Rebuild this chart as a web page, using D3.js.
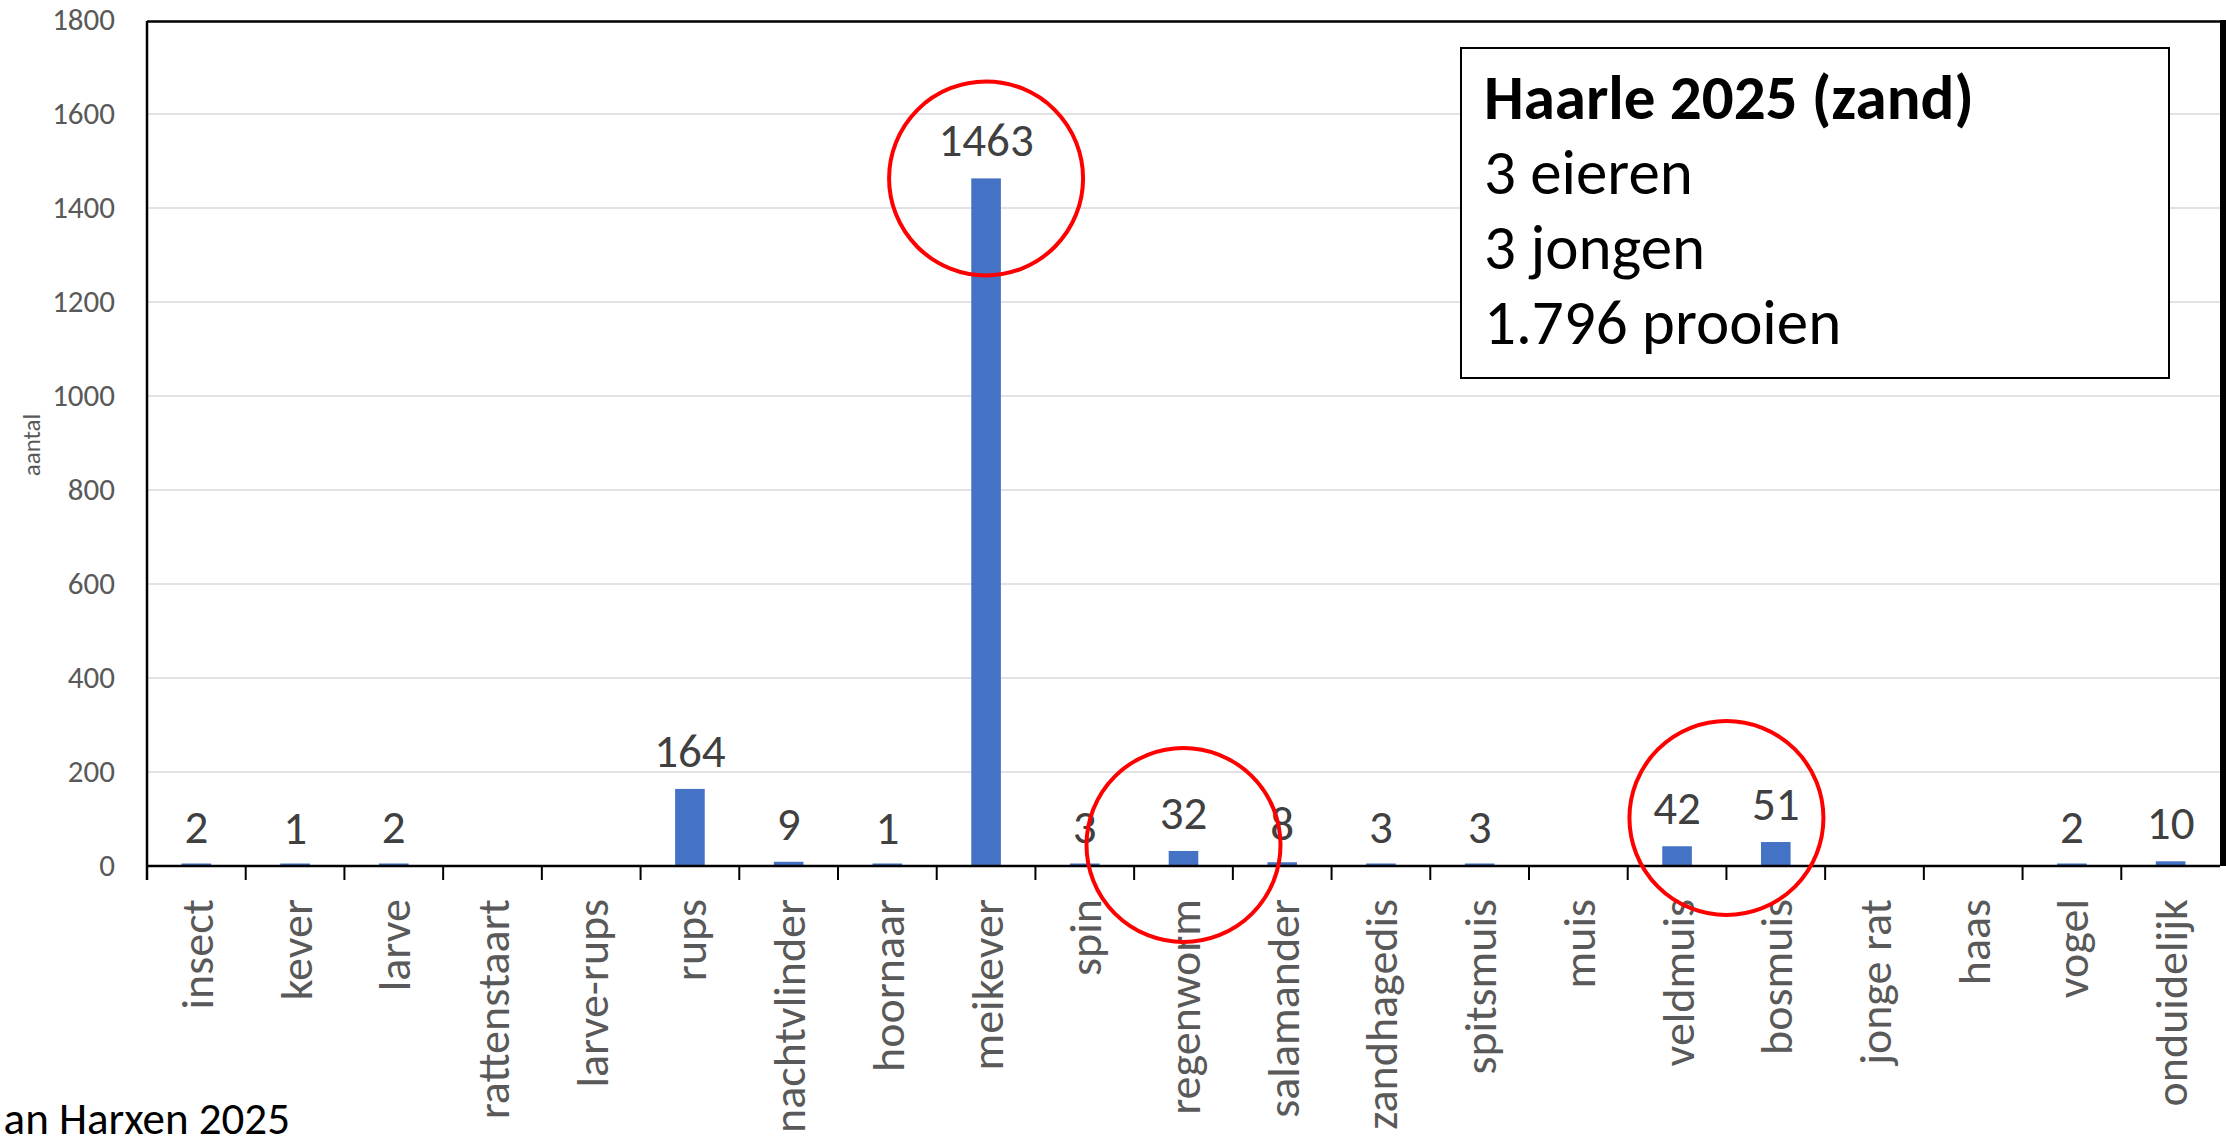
<!DOCTYPE html>
<html>
<head>
<meta charset="utf-8">
<script src="https://cdn.jsdelivr.net/npm/d3@7"></script>
<style>
  body { margin: 0; background: #fff; }
  svg { display: block; font-family: Carlito, Calibri, Lato, sans-serif; }
</style>
</head>
<body>
<div id="chart"></div>
<script>
// prooien per categorie (lege cellen = null)
var categories = ["insect", "kever", "larve", "rattenstaart", "larve-rups", "rups", "nachtvlinder",
  "hoornaar", "meikever", "spin", "regenworm", "salamander", "zandhagedis", "spitsmuis", "muis",
  "veldmuis", "bosmuis", "jonge rat", "haas", "vogel", "onduidelijk"];
var counts = [2, 1, 2, null, null, 164, 9, 1, 1463, 3, 32, 8, 3, 3, null, 42, 51, null, null, 2, 10];
var yTicks = [0, 200, 400, 600, 800, 1000, 1200, 1400, 1600, 1800];
var yTitle = "aantal";
var infoLines = ["Haarle 2025 (zand)", "3 eieren", "3 jongen", "1.796 prooien"];
var credit = "an Harxen 2025";
// rode cirkels rond deze categorieen
var highlights = [["meikever"], ["regenworm"], ["veldmuis", "bosmuis"]];

var data = categories.map(function(c, i) { return { cat: c, value: counts[i] }; });

var svgWidth = 2226, svgHeight = 1141;
var plot = { left: 147, right: 2220, top: 20, bottom: 866 };

var svg = d3.select("#chart").append("svg")
  .attr("width", svgWidth)
  .attr("height", svgHeight);

var x = d3.scaleBand().domain(categories).range([plot.left, plot.right]).padding(0);
var y = d3.scaleLinear().domain([0, 1800]).range([plot.bottom, plot.top]);

// gridlines
svg.append("g").selectAll("line")
  .data(yTicks.filter(function(d) { return d > 0 && d < 1800; }))
  .enter().append("line")
  .attr("x1", plot.left).attr("x2", plot.right)
  .attr("y1", function(d) { return y(d); }).attr("y2", function(d) { return y(d); })
  .attr("stroke", "#d9d9d9").attr("stroke-width", 1.5);

// y axis labels
var yAxis = d3.axisLeft(y).tickValues(yTicks).tickFormat(d3.format("d")).tickSize(0).tickPadding(32);
var yg = svg.append("g").attr("transform", "translate(" + plot.left + ",0)").call(yAxis);
yg.select(".domain").remove();
yg.selectAll("text").attr("font-size", 31).attr("fill", "#595959")
  .attr("font-family", "Carlito, Calibri, Lato, sans-serif");

svg.append("text")
  .attr("transform", "translate(40,445) rotate(-90)")
  .attr("text-anchor", "middle")
  .attr("font-size", 25).attr("fill", "#595959")
  .text(yTitle);

// bars
var barW = x.bandwidth() * 0.3;
svg.append("g").selectAll("rect")
  .data(data.filter(function(d) { return d.value != null; }))
  .enter().append("rect")
  .attr("x", function(d) { return x(d.cat) + (x.bandwidth() - barW) / 2; })
  .attr("width", barW)
  .attr("y", function(d) { return Math.min(y(d.value), plot.bottom - 2.5); })
  .attr("height", function(d) { return Math.max(plot.bottom - y(d.value), 2.5); })
  .attr("fill", "#4472c4");

// data labels
svg.append("g").selectAll("text")
  .data(data.filter(function(d) { return d.value != null; }))
  .enter().append("text")
  .attr("x", function(d) { return x(d.cat) + x.bandwidth() / 2; })
  .attr("y", function(d) { return y(d.value) - 22; })
  .attr("text-anchor", "middle")
  .attr("font-size", 47).attr("fill", "#404040")
  .text(function(d) { return d.value; });

// x axis
var xAxis = d3.axisBottom(x).tickSize(0);
var xg = svg.append("g").attr("transform", "translate(0," + plot.bottom + ")").call(xAxis);
xg.select(".domain").remove();
xg.selectAll("text")
  .attr("transform", "rotate(-90)")
  .attr("text-anchor", "end")
  .attr("x", -33).attr("y", 0).attr("dy", "0.36em")
  .attr("font-size", 46).attr("fill", "#595959")
  .attr("font-family", "Carlito, Calibri, Lato, sans-serif");

// tick marks on band edges
svg.append("g").selectAll("line")
  .data(categories.slice(1))
  .enter().append("line")
  .attr("x1", function(d) { return x(d); }).attr("x2", function(d) { return x(d); })
  .attr("y1", plot.bottom).attr("y2", plot.bottom + 14)
  .attr("stroke", "#000").attr("stroke-width", 2);

// frame + axis lines
svg.append("line").attr("x1", plot.left).attr("x2", plot.right).attr("y1", plot.bottom).attr("y2", plot.bottom)
  .attr("stroke", "#000").attr("stroke-width", 2.5);
svg.append("line").attr("x1", plot.left).attr("x2", plot.left).attr("y1", plot.top + 1).attr("y2", plot.bottom + 14)
  .attr("stroke", "#000").attr("stroke-width", 2.5);
svg.append("line").attr("x1", plot.left).attr("x2", svgWidth).attr("y1", plot.top + 1.5).attr("y2", plot.top + 1.5)
  .attr("stroke", "#000").attr("stroke-width", 2.5);
svg.append("rect").attr("x", plot.right).attr("y", plot.top).attr("width", svgWidth - plot.right)
  .attr("height", plot.bottom - plot.top).attr("fill", "#000");

// info box
var box = svg.append("g");
box.append("rect").attr("x", 1461).attr("y", 48).attr("width", 708).attr("height", 330)
  .attr("fill", "#fff").attr("stroke", "#000").attr("stroke-width", 2);
box.selectAll("text").data(infoLines).enter().append("text")
  .attr("x", 1484)
  .attr("y", function(d, i) { return 119 + i * 75; })
  .attr("font-size", 63)
  .attr("font-weight", function(d, i) { return i === 0 ? "bold" : "normal"; })
  .attr("fill", "#000")
  .text(function(d) { return d; });

// red circles
var circleNudge = [0, -6, -24];
svg.append("g").selectAll("circle")
  .data(highlights)
  .enter().append("circle")
  .attr("cx", function(g) { return d3.mean(g, function(c) { return x(c) + x.bandwidth() / 2; }); })
  .attr("cy", function(g, i) {
    var top = d3.max(g, function(c) { return counts[categories.indexOf(c)]; });
    return y(top) + circleNudge[i];
  })
  .attr("r", 97)
  .attr("fill", "none").attr("stroke", "#ff0000").attr("stroke-width", 4);

// credit
svg.append("text")
  .attr("x", 290).attr("y", 1134)
  .attr("text-anchor", "end")
  .attr("font-size", 45).attr("fill", "#000")
  .text(credit);
</script>
</body>
</html>
